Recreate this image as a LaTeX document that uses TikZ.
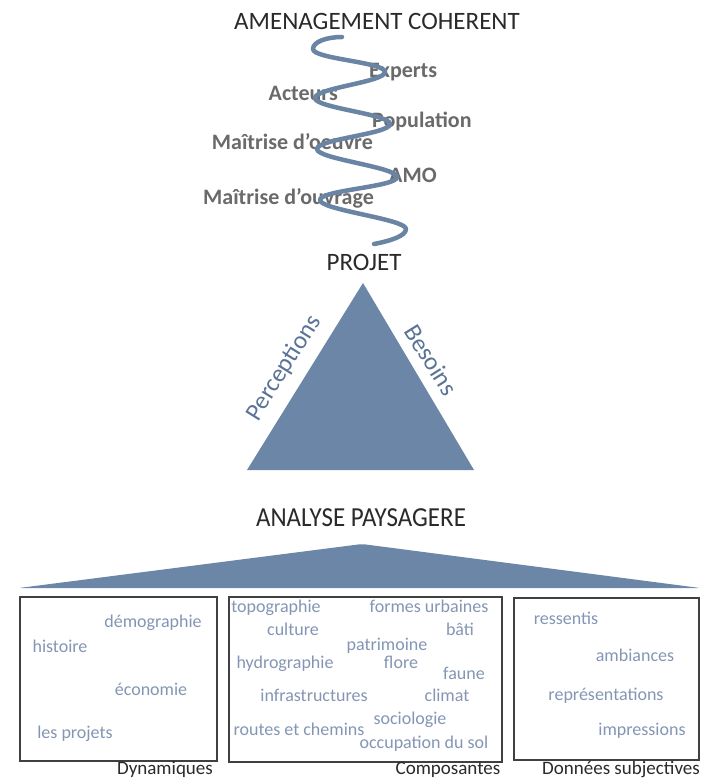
\documentclass[tikz,border=0pt]{standalone}
\usepackage{fontspec}
\setmainfont{Carlito}
\definecolor{slate}{HTML}{6C86A8}
\definecolor{helixcol}{HTML}{6A84A4}
\definecolor{helixgray}{HTML}{6A6A6A}
\definecolor{boxblue}{HTML}{8496B4}
\definecolor{sidetext}{HTML}{5A7396}
\definecolor{darktext}{HTML}{2A2A2A}
\definecolor{frame}{HTML}{404040}
\tikzset{
  titletext/.style={font=\fontsize{25}{28}\selectfont, text=darktext, inner sep=0},
  helixlabel/.style={font=\fontsize{22}{25}\selectfont\bfseries, text=helixgray, inner sep=0},
  sidelabel/.style={font=\fontsize{25}{28}\selectfont, text=sidetext, inner sep=0},
  boxtext/.style={font=\fontsize{18}{20}\selectfont, text=boxblue, inner sep=0, anchor=mid},
  boxlabel/.style={font=\fontsize{19}{22}\selectfont, text=darktext, inner sep=0, anchor=mid},
  framebox/.style={draw=frame, line width=1.3pt},
  helixline/.style={draw=helixcol, line width=4.5pt, line cap=round, line join=round},
}
\begin{document}
\begin{tikzpicture}[x=1pt,y=-1pt]
\useasboundingbox[fill=white] (0,0) rectangle (701,782);

% title
\node[titletext] (title) at (377,21) {AMENAGEMENT COHERENT};

% helix labels
\node[helixlabel, anchor=mid west] (experts) at (369,75) {Experts};
\node[helixlabel, anchor=mid east] (acteurs) at (338,98) {Acteurs};
\node[helixlabel, anchor=mid west] (population) at (372,125) {Population};
\node[helixlabel, anchor=mid east] (moeuvre) at (373,147) {Maîtrise d'oeuvre};
\node[helixlabel, anchor=mid west] (amo) at (389,180) {AMO};
\node[helixlabel, anchor=mid east] (mouvrage) at (374,202) {Maîtrise d’ouvrage};

% helix
\draw[helixline] (342,37) .. controls (326,37) and (313,42) .. (313,49)
 .. controls (313,59) and (385,62) .. (385,72)
 .. controls (385,82) and (315,88) .. (315,98)
 .. controls (315,108) and (390,114) .. (390,124)
 .. controls (390,134) and (317,139) .. (317,149)
 .. controls (317,159) and (397,167) .. (397,177)
 .. controls (397,187) and (320,190) .. (320,200)
 .. controls (320,210) and (406,219) .. (406,229)
 .. controls (406,236) and (390,241) .. (374,244);

% projet
\node[titletext] (projet) at (364,262) {PROJET};

% triangle
\fill[slate] (363,283) -- (474,470) -- (247,470) -- cycle;
\node[sidelabel, rotate=58] (perceptions) at (284,368) {Perceptions};
\node[sidelabel, rotate=-58] (besoins) at (431,360) {Besoins};

% analyse
\node[titletext, yscale=1.1] (analyse) at (361,518) {ANALYSE PAYSAGERE};

% wide triangle
\fill[slate, rounded corners=2pt] (362,544) -- (700,588) -- (19,588) -- cycle;

% boxes
\draw[framebox] (20,597) rectangle (217,761);
\draw[framebox] (229,597) rectangle (502,762);
\draw[framebox] (514,598) rectangle (699,760);

% box 1
\node[boxtext] (demo) at (153,625) {démographie};
\node[boxtext] (hist) at (60,650) {histoire};
\node[boxtext] (eco) at (151,693) {économie};
\node[boxtext] (proj) at (75,736) {les projets};

% box 2
\node[boxtext] (topo) at (276,610) {topographie};
\node[boxtext] (formes) at (429,610) {formes urbaines};
\node[boxtext] (cult) at (293,633) {culture};
\node[boxtext] (bati) at (460,633) {bâti};
\node[boxtext] (patri) at (387,648) {patrimoine};
\node[boxtext] (hydro) at (285,666) {hydrographie};
\node[boxtext] (flore) at (401,666) {flore};
\node[boxtext] (faune) at (464,677) {faune};
\node[boxtext] (infra) at (314,699) {infrastructures};
\node[boxtext] (climat) at (447,699) {climat};
\node[boxtext] (socio) at (410,722) {sociologie};
\node[boxtext] (routes) at (299,733) {routes et chemins};
\node[boxtext] (occup) at (424,746) {occupation du sol};

% box 3
\node[boxtext] (ress) at (566,622) {ressentis};
\node[boxtext] (amb) at (635,659) {ambiances};
\node[boxtext] (repr) at (606,698) {représentations};
\node[boxtext] (impr) at (642,733) {impressions};

% box labels
\node[boxlabel] (dyn) at (165,772) {Dynamiques};
\node[boxlabel] (comp) at (448,772) {Composantes};
\node[boxlabel] (donn) at (621,772) {Données subjectives};
\end{tikzpicture}
\end{document}
